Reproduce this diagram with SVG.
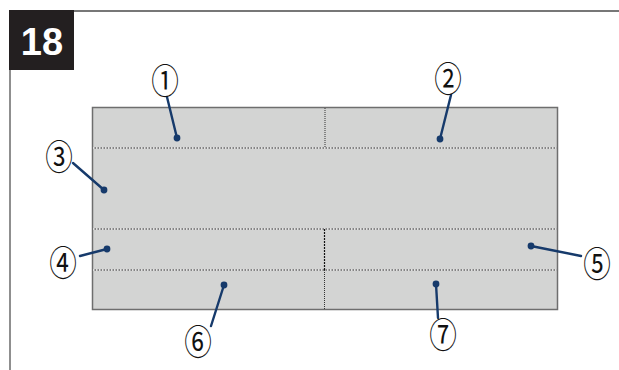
<svg xmlns="http://www.w3.org/2000/svg" width="619" height="370" viewBox="0 0 619 370">
<style>
.lead{stroke:#163a6b;stroke-width:2.4;fill:none;stroke-linecap:round}
.dot{fill:#163a6b}
.num{font-family:"Noto Sans CJK JP","DejaVu Sans",sans-serif;font-size:24px;fill:#111;text-anchor:middle}
.dash{stroke:#6a6a6a;stroke-width:1.6}
.dashw{stroke:#ffffff;stroke-width:1.6;stroke-dasharray:1.5 1.5}
</style>
<rect width="619" height="370" fill="#ffffff"/>
<g id="frame">
<line x1="74" y1="11" x2="619" y2="11" stroke="#4a4a4a" stroke-width="1.5"/>
<line x1="10" y1="70" x2="10" y2="370" stroke="#6a6a6a" stroke-width="1.5"/>
<rect x="9" y="10" width="65" height="60" fill="#231f20"/>
<text x="42" y="55" font-family="Liberation Sans,Arial,sans-serif" font-weight="bold" font-size="38" fill="#ffffff" text-anchor="middle">18</text>
</g>
<g id="panel">
<rect x="92.5" y="107.5" width="465" height="202" fill="#d3d4d3" stroke="#6e6e6e" stroke-width="1.5"/>
<line class="dash" x1="93" y1="148" x2="557" y2="148"/>
<line class="dashw" x1="93" y1="148" x2="557" y2="148"/>
<line class="dash" x1="93" y1="229" x2="557" y2="229"/>
<line class="dashw" x1="93" y1="229" x2="557" y2="229"/>
<line class="dash" x1="93" y1="270" x2="557" y2="270"/>
<line class="dashw" x1="93" y1="270" x2="557" y2="270"/>
<line x1="325" y1="108" x2="325" y2="148" stroke="#333" stroke-width="1" stroke-dasharray="1 1"/>
<line x1="324.5" y1="229" x2="324.5" y2="270" stroke="#111" stroke-width="1.2" stroke-dasharray="2 1"/>
<line x1="324.5" y1="270" x2="324.5" y2="309" stroke="#333" stroke-width="1" stroke-dasharray="1 1"/>
</g>
<g id="connectors">
<line class="lead" x1="167" y1="97" x2="177" y2="138"/>
<line class="lead" x1="451" y1="95" x2="440" y2="139"/>
<line class="lead" x1="73" y1="163" x2="104" y2="190"/>
<line class="lead" x1="80" y1="256" x2="107" y2="249"/>
<line class="lead" x1="581" y1="256" x2="531" y2="246"/>
<line class="lead" x1="211" y1="326" x2="224" y2="285"/>
<line class="lead" x1="438" y1="318" x2="436" y2="284"/>
<circle class="dot" cx="177" cy="138" r="3.4"/>
<circle class="dot" cx="440" cy="139" r="3.4"/>
<circle class="dot" cx="104" cy="190" r="3.4"/>
<circle class="dot" cx="107" cy="249" r="3.4"/>
<circle class="dot" cx="531" cy="246" r="3.4"/>
<circle class="dot" cx="224" cy="285" r="3.4"/>
<circle class="dot" cx="436" cy="284" r="3.4"/>
</g>
<g id="label1"><text class="num" transform="translate(165,82) scale(1.15,1.45)" y="8.5">①</text></g>
<g id="label2"><text class="num" transform="translate(448,80) scale(1.15,1.45)" y="8.5">②</text></g>
<g id="label3"><text class="num" transform="translate(59,158) scale(1.15,1.45)" y="8.5">③</text></g>
<g id="label4"><text class="num" transform="translate(63,264) scale(1.15,1.45)" y="8.5">④</text></g>
<g id="label5"><text class="num" transform="translate(597,265) scale(1.15,1.45)" y="8.5">⑤</text></g>
<g id="label6"><text class="num" transform="translate(198,343) scale(1.15,1.45)" y="8.5">⑥</text></g>
<g id="label7"><text class="num" transform="translate(443,336) scale(1.15,1.45)" y="8.5">⑦</text></g>
</svg>
